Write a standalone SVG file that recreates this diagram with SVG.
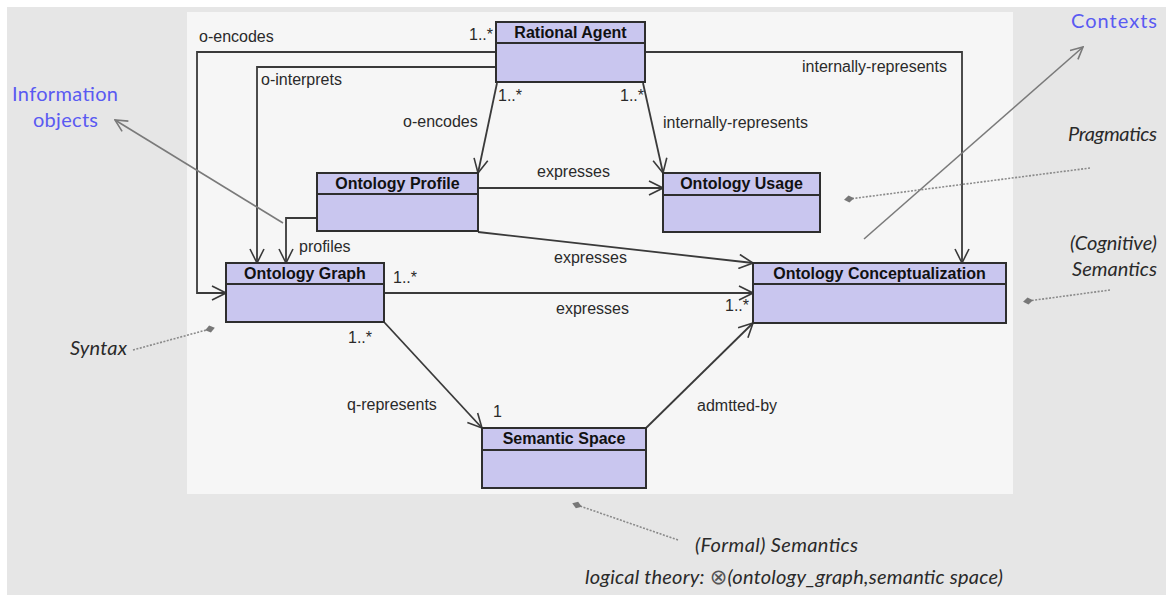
<svg xmlns="http://www.w3.org/2000/svg" width="1166" height="595" viewBox="0 0 1166 595">
  <defs>
    <style>
      .box { fill: #c9c6ef; stroke: #2e2e2e; stroke-width: 2; }
      .div { stroke: #2e2e2e; stroke-width: 1.8; fill: none; }
      .name { font-family: "Liberation Sans", Arial, sans-serif; font-weight: bold; font-size: 16px; fill: #111; text-anchor: middle; }
      .lbl { font-family: "Liberation Sans", Arial, sans-serif; font-size: 16px; fill: #2a2a2a; }
      .edge { fill: none; stroke: #3a3a3a; stroke-width: 1.8; marker-end: url(#open); }
      .note { fill: none; stroke: #7a7a7a; stroke-width: 1.6; marker-end: url(#grayhead); }
      .dots { fill: none; stroke: #8a8a8a; stroke-width: 1.6; stroke-dasharray: 2 1.5; marker-end: url(#diamond); }
      .blue { font-family: "Lato", "Open Sans", sans-serif; font-size: 20px; fill: #5a5af2; }
      .ital { font-family: "Lato", "Open Sans", sans-serif; font-style: italic; font-size: 20px; fill: #2a2a2a; }
      .sym { font-family: "DejaVu Sans", sans-serif; font-style: normal; font-size: 21px; fill: #555; }
    </style>
    <marker id="open" viewBox="0 0 16 16" refX="15" refY="8" markerWidth="16" markerHeight="16" markerUnits="userSpaceOnUse" orient="auto">
      <path d="M1,1 L15,8 L1,15" fill="none" stroke="#3a3a3a" stroke-width="1.6"/>
    </marker>
    <marker id="grayhead" viewBox="0 0 14 14" refX="13" refY="7" markerWidth="14" markerHeight="14" markerUnits="userSpaceOnUse" orient="auto">
      <path d="M1,1 L13,7 L1,13" fill="none" stroke="#7a7a7a" stroke-width="1.6"/>
    </marker>
    <marker id="diamond" viewBox="0 0 10 10" refX="5" refY="5" markerWidth="10" markerHeight="10" markerUnits="userSpaceOnUse" orient="auto">
      <path d="M0,5 L5,1.5 L10,5 L5,8.5 Z" fill="#777"/>
    </marker>
  </defs>

  <!-- backgrounds -->
  <rect x="0" y="0" width="1166" height="595" fill="#ffffff"/>
  <rect x="7" y="7" width="1159" height="588" fill="#e6e6e6"/>
  <rect x="187" y="12" width="826" height="482" fill="#f6f6f6"/>

  <!-- connectors -->
  <g id="connectors">
    <path class="edge" d="M496,52 H197 V293 H226"/>
    <path class="edge" d="M645,52 H962 V263"/>
    <path class="edge" d="M496,67 H257 V263"/>
    <path class="edge" d="M317,218 H286 V263"/>
    <path class="edge" d="M497,83 L478,173"/>
    <path class="edge" d="M643,83 L663,173"/>
    <path class="edge" d="M478,188 H663"/>
    <path class="edge" d="M478,232 L753,263"/>
    <path class="edge" d="M384,293 H753"/>
    <path class="edge" d="M384,322 L482,428"/>
    <path class="edge" d="M646,428 L753,323"/>

    <text class="lbl" x="199" y="42">o-encodes</text>
    <text class="lbl" x="469" y="40">1..*</text>
    <text class="lbl" x="261" y="85">o-interprets</text>
    <text class="lbl" x="802" y="72">internally-represents</text>
    <text class="lbl" x="498" y="101">1..*</text>
    <text class="lbl" x="620" y="101">1..*</text>
    <text class="lbl" x="403" y="127">o-encodes</text>
    <text class="lbl" x="663" y="128">internally-represents</text>
    <text class="lbl" x="537" y="177">expresses</text>
    <text class="lbl" x="299" y="252">profiles</text>
    <text class="lbl" x="554" y="263">expresses</text>
    <text class="lbl" x="393" y="283">1..*</text>
    <text class="lbl" x="556" y="314">expresses</text>
    <text class="lbl" x="725" y="311">1..*</text>
    <text class="lbl" x="348" y="343">1..*</text>
    <text class="lbl" x="347" y="410">q-represents</text>
    <text class="lbl" x="493" y="417">1</text>
    <text class="lbl" x="697" y="411">admtted-by</text>
  </g>

  <!-- class nodes -->
  <g id="rational-agent">
    <rect class="box" x="496" y="22" width="149" height="60"/>
    <line class="div" x1="496" y1="43" x2="645" y2="43"/>
    <text class="name" x="570.5" y="38">Rational Agent</text>
  </g>
  <g id="ontology-profile">
    <rect class="box" x="317" y="173" width="161" height="58"/>
    <line class="div" x1="317" y1="194" x2="478" y2="194"/>
    <text class="name" x="397.5" y="189">Ontology Profile</text>
  </g>
  <g id="ontology-usage">
    <rect class="box" x="663" y="173" width="157" height="59"/>
    <line class="div" x1="663" y1="195" x2="820" y2="195"/>
    <text class="name" x="741.5" y="189">Ontology Usage</text>
  </g>
  <g id="ontology-graph">
    <rect class="box" x="226" y="263" width="158" height="59"/>
    <line class="div" x1="226" y1="284" x2="384" y2="284"/>
    <text class="name" x="305" y="279">Ontology Graph</text>
  </g>
  <g id="ontology-conceptualization">
    <rect class="box" x="753" y="263" width="253" height="60"/>
    <line class="div" x1="753" y1="284" x2="1006" y2="284"/>
    <text class="name" x="879.5" y="279">Ontology Conceptualization</text>
  </g>
  <g id="semantic-space">
    <rect class="box" x="482" y="428" width="164" height="60"/>
    <line class="div" x1="482" y1="450" x2="646" y2="450"/>
    <text class="name" x="564" y="444">Semantic Space</text>
  </g>

  <!-- annotations -->
  <g id="annotations">
    <path class="note" d="M283,223 L115,120"/>
    <path class="note" d="M864,239 L1083,47"/>
    <path class="dots" d="M1090,168 L849,199"/>
    <path class="dots" d="M1110,290 L1028,301"/>
    <path class="dots" d="M133,350 L210,329"/>
    <path class="dots" d="M678,540 L577,505"/>

    <text class="blue" x="12" y="101" textLength="106">Information</text>
    <text class="blue" x="33" y="127" textLength="65">objects</text>
    <text class="blue" x="1071" y="28" textLength="86">Contexts</text>
    <text class="ital" x="1068" y="141" textLength="89">Pragmatics</text>
    <text class="ital" x="1070" y="250" textLength="87">(Cognitive)</text>
    <text class="ital" x="1072" y="276" textLength="85">Semantics</text>
    <text class="ital" x="70" y="355" textLength="57">Syntax</text>
    <text class="ital" x="695" y="552" textLength="163">(Formal) Semantics</text>
    <text class="ital" x="585" y="584" textLength="418">logical theory: <tspan class="sym">⊗</tspan>(ontology_graph,semantic space)</text>
  </g>
</svg>
